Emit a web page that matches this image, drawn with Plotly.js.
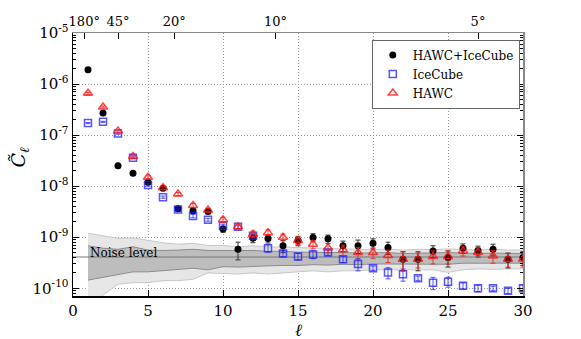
<!DOCTYPE html>
<html>
<head>
<meta charset="utf-8">
<script src="https://cdn.plot.ly/plotly-3.0.1.min.js"></script>
<style>html,body{margin:0;padding:0;background:#fff;}#chart{width:581px;height:339px;}</style>
</head>
<body>
<div id="chart"></div>
<script>
// multipole index
const ell = [1,2,3,4,5,6,7,8,9,10,11,12,13,14,15,16,17,18,19,20,21,22,23,24,25,26,27,28,29,30];

// HAWC+IceCube
const combined = [1.9e-6,2.7e-7,2.5e-8,1.8e-8,1.2e-8,9.1e-9,3.6e-9,3.3e-9,3.2e-9,1.45e-9,
  5.8e-10,9.6e-10,9.4e-10,6.8e-10,8.6e-10,9.9e-10,9.3e-10,6.8e-10,6.8e-10,7.6e-10,
  6.3e-10,3.7e-10,3.7e-10,5.4e-10,4.0e-10,6.1e-10,5.5e-10,5.8e-10,3.7e-10,4.0e-10];
const combinedErr = [5e-8,1e-8,1.5e-9,1e-9,8e-10,6e-10,4e-10,3.5e-10,3e-10,2e-10,
  2.2e-10,1.8e-10,1.7e-10,1.8e-10,1.8e-10,1.8e-10,1.7e-10,1.6e-10,2e-10,1.7e-10,
  1.7e-10,1.5e-10,1.5e-10,1.4e-10,1.4e-10,1.3e-10,1.2e-10,1.5e-10,1.2e-10,1.2e-10];

// IceCube
const icecube = [1.72e-7,1.82e-7,1.07e-7,3.6e-8,1.06e-8,6.1e-9,3.5e-9,2.6e-9,2.2e-9,1.67e-9,
  1.6e-9,1.07e-9,6.1e-10,4.8e-10,4.2e-10,4.6e-10,5.0e-10,3.7e-10,3.0e-10,2.47e-10,
  2.03e-10,1.88e-10,1.58e-10,1.29e-10,1.35e-10,1.12e-10,1.0e-10,1.0e-10,8.9e-11,1.0e-10];
const icecubeErr = [4e-9,4e-9,3e-9,1.5e-9,6e-10,3e-10,2e-10,2e-10,1.5e-10,1.3e-10,
  1.2e-10,1e-10,1e-10,7e-11,6e-11,8e-11,6e-11,5e-11,8e-11,2.5e-11,
  5e-11,5e-11,1.5e-11,3.5e-11,3e-11,1.5e-11,1.5e-11,1e-11,1e-11,1.5e-11];

// HAWC
const hawc = [6.6e-7,3.55e-7,1.21e-7,3.8e-8,1.5e-8,9.3e-9,7.0e-9,4.2e-9,3.4e-9,2.2e-9,
  1.6e-9,1.15e-9,1.23e-9,1.0e-9,8.6e-10,7.3e-10,6.2e-10,5.7e-10,5.0e-10,5.0e-10,
  4.4e-10,3.7e-10,3.7e-10,4.2e-10,4.2e-10,5.4e-10,5.1e-10,4.3e-10,3.7e-10,3.7e-10];
const hawcErr = [3e-8,1.5e-8,6e-9,2e-9,1e-9,6e-10,5e-10,4e-10,3e-10,2.5e-10,
  2e-10,1.7e-10,1.6e-10,1.5e-10,1.4e-10,1.4e-10,1.3e-10,1.3e-10,1.3e-10,1.2e-10,
  1.2e-10,1.5e-10,1.2e-10,1.2e-10,1.2e-10,1.1e-10,1.1e-10,1.2e-10,1.1e-10,1.1e-10];

// isotropic noise level and its 1σ / 2σ bands
const noiseLevel = 4.1e-10;
const noiseX = [0, 30];
const band2Upper = [1.2e-9,1.07e-9,9.5e-10,9.7e-10,8.6e-10,7.8e-10,7.3e-10,7.6e-10,6.9e-10,6.9e-10,
  6.5e-10,6.8e-10,6.5e-10,6.4e-10,6.2e-10,6.0e-10,6.1e-10,6.0e-10,5.8e-10,5.7e-10,
  5.9e-10,5.6e-10,5.8e-10,5.7e-10,5.9e-10,5.7e-10,5.6e-10,5.8e-10,5.6e-10,5.6e-10];
const band1Upper = [6.8e-10,6.1e-10,5.8e-10,6.5e-10,5.6e-10,5.5e-10,5.6e-10,5.8e-10,5.5e-10,5.5e-10,
  5.4e-10,5.5e-10,5.3e-10,5.3e-10,5.1e-10,5.1e-10,5.0e-10,5.0e-10,4.9e-10,4.9e-10,
  5.0e-10,4.8e-10,4.9e-10,4.9e-10,5.0e-10,4.9e-10,4.8e-10,4.9e-10,4.8e-10,4.8e-10];
const band1Lower = [1.45e-10,1.64e-10,1.8e-10,2.1e-10,2.1e-10,2.2e-10,2.28e-10,2.47e-10,2.3e-10,2.65e-10,
  2.6e-10,2.7e-10,2.75e-10,2.8e-10,2.8e-10,2.9e-10,2.85e-10,2.95e-10,2.9e-10,3.0e-10,
  3.0e-10,3.05e-10,3.0e-10,3.0e-10,2.95e-10,3.1e-10,3.05e-10,3.1e-10,3.1e-10,3.1e-10];
const band2Lower = [4e-11,7.4e-11,1.2e-10,1.29e-10,1.29e-10,1.41e-10,1.41e-10,1.5e-10,2.0e-10,1.97e-10,
  1.9e-10,2.0e-10,1.9e-10,2.0e-10,2.1e-10,2.2e-10,2.1e-10,2.2e-10,2.2e-10,2.3e-10,
  2.3e-10,2.3e-10,2.35e-10,2.3e-10,2.05e-10,2.3e-10,2.4e-10,2.35e-10,2.4e-10,2.4e-10];

// angular scale ticks on the top axis
const angleLabels = ['180°','45°','20°','10°','5°'];
const angleTickPos = [0.75, 3, 6.75, 13.5, 27];

const yTickVals = [1e-10,1e-9,1e-8,1e-7,1e-6,1e-5];
const yTickText = ['10<sup>-10</sup>','10<sup>-9</sup>','10<sup>-8</sup>','10<sup>-7</sup>','10<sup>-6</sup>','10<sup>-5</sup>'];

const F = 'DejaVu Serif';

const traces = [
  {x: ell, y: band2Lower, mode: 'lines', line: {color: '#c8c8c8', width: 1}, showlegend: false, hoverinfo: 'skip'},
  {x: ell, y: band2Upper, mode: 'lines', line: {color: '#c8c8c8', width: 1}, fill: 'tonexty', fillcolor: '#e6e6e6', showlegend: false, hoverinfo: 'skip'},
  {x: ell, y: band1Lower, mode: 'lines', line: {color: '#8c8c8c', width: 1}, showlegend: false, hoverinfo: 'skip'},
  {x: ell, y: band1Upper, mode: 'lines', line: {color: '#8c8c8c', width: 1}, fill: 'tonexty', fillcolor: '#bdbdbd', showlegend: false, hoverinfo: 'skip'},
  {x: noiseX, y: noiseX.map(() => noiseLevel), mode: 'lines', line: {color: '#777', width: 1}, showlegend: false, hoverinfo: 'skip'},
  {x: ell, y: combined, name: 'HAWC+IceCube', mode: 'markers',
   marker: {symbol: 'circle', size: 7, color: '#000'},
   error_y: {type: 'data', array: combinedErr, color: '#333', thickness: 1, width: 2.5}},
  {x: ell, y: icecube, name: 'IceCube', mode: 'markers',
   marker: {symbol: 'square-open', size: 7, color: 'rgba(30,30,255,0.75)', line: {width: 1.5}},
   error_y: {type: 'data', array: icecubeErr, color: 'rgba(30,30,255,0.75)', thickness: 1, width: 2.5}},
  {x: ell, y: hawc, name: 'HAWC', mode: 'markers',
   marker: {symbol: 'triangle-up-open', size: 8, color: 'rgba(255,20,20,0.8)', line: {width: 1.5}},
   error_y: {type: 'data', array: hawcErr, color: 'rgba(255,20,20,0.8)', thickness: 1, width: 2.5}},
  // invisible anchor so the top (angular) and right axes are drawn
  {x: [angleTickPos[0]], y: [noiseLevel], xaxis: 'x2', yaxis: 'y2', mode: 'markers',
   marker: {opacity: 0}, showlegend: false, hoverinfo: 'skip'}
];

const layout = {
  width: 581, height: 339,
  margin: {l: 73, r: 58, t: 33, b: 43},
  paper_bgcolor: '#fff', plot_bgcolor: '#fff',
  font: {family: F, color: '#000', size: 14},
  showlegend: true,
  legend: {x: 0.664, y: 0.975, xanchor: 'left', yanchor: 'top', bgcolor: '#fff', traceorder: 'normal',
           bordercolor: '#666', borderwidth: 1, font: {family: F, size: 12}, tracegroupgap: 0,
           itemwidth: 30},
  xaxis: {range: [0, 30], tickvals: [0,5,10,15,20,25,30], ticks: 'inside', ticklen: 6,
          tickcolor: '#000', showline: true, linecolor: '#000', linewidth: 1.5,
          showgrid: true, gridcolor: '#999', griddash: '1px,2px', gridwidth: 1, zeroline: false,
          tickfont: {family: F, size: 15}},
  xaxis2: {range: [0, 30], overlaying: 'x', side: 'top', anchor: 'y', tickmode: 'array',
           tickvals: angleTickPos, ticktext: angleLabels, ticks: 'inside', ticklen: 6,
           tickcolor: '#000', showline: true, linecolor: '#888', linewidth: 1.5,
           showgrid: false, zeroline: false, tickfont: {family: F, size: 13}},
  yaxis: {type: 'log', range: [-10.151, -5], tickmode: 'array', tickvals: yTickVals, ticktext: yTickText,
          ticks: 'inside', ticklen: 6, tickcolor: '#000', showline: true, linecolor: '#000', linewidth: 1.5,
          showgrid: true, gridcolor: '#999', griddash: '1px,2px', gridwidth: 1, zeroline: false,
          minor: {ticks: 'inside', ticklen: 3, tickcolor: '#000', dtick: 'D1', showgrid: false},
          tickfont: {family: F, size: 15}},
  yaxis2: {type: 'log', range: [-10.151, -5], overlaying: 'y', side: 'right', anchor: 'x2',
           tickmode: 'array', tickvals: yTickVals, showticklabels: false,
           ticks: 'inside', ticklen: 6, tickcolor: '#000', showline: true, linecolor: '#888', linewidth: 1.5,
           showgrid: false, zeroline: false,
           minor: {ticks: 'inside', ticklen: 3, tickcolor: '#000', dtick: 'D1', showgrid: false}},
  annotations: [
    {x: 1, y: Math.log10(noiseLevel), xref: 'x', yref: 'y', text: 'Noise level', showarrow: false,
     xanchor: 'left', yanchor: 'middle', yshift: 4, font: {family: F, size: 12, color: '#000'}},
    {x: -0.118, y: 0.53, xref: 'paper', yref: 'paper', text: '<i>C̃</i><sub><i>ℓ</i></sub>',
     showarrow: false, textangle: -90, xanchor: 'center', yanchor: 'middle',
     font: {family: F, size: 19, color: '#000'}},
    {x: 0.5, y: -0.13, xref: 'paper', yref: 'paper', text: '<i>ℓ</i>',
     showarrow: false, xanchor: 'center', yanchor: 'middle',
     font: {family: F, size: 17, color: '#000'}}
  ]
};

Plotly.newPlot('chart', traces, layout, {displayModeBar: false, staticPlot: true});
</script>
</body>
</html>
